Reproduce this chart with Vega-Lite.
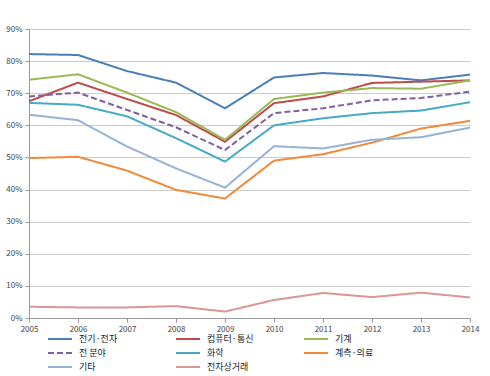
{
  "$schema": "https://vega.github.io/schema/vega-lite/v6.json",
  "width": 441,
  "height": 289,
  "autosize": {"type": "none"},
  "padding": {"left": 29, "top": 29, "right": 20, "bottom": 58},
  "background": "white",
  "config": {
    "font": "Noto Sans CJK KR",
    "view": {"stroke": null},
    "axis": {"labelColor": "#444", "labelFontSize": 8, "domainColor": "#999", "tickColor": "#999", "gridColor": "#cccccc", "gridWidth": 1}
  },
  "data": {"values": [
    {"year": "2005", "s": "전기·전자", "v": 82.2},
    {"year": "2006", "s": "전기·전자", "v": 81.9},
    {"year": "2007", "s": "전기·전자", "v": 76.9},
    {"year": "2008", "s": "전기·전자", "v": 73.3},
    {"year": "2009", "s": "전기·전자", "v": 65.3},
    {"year": "2010", "s": "전기·전자", "v": 74.9},
    {"year": "2011", "s": "전기·전자", "v": 76.3},
    {"year": "2012", "s": "전기·전자", "v": 75.5},
    {"year": "2013", "s": "전기·전자", "v": 74.0},
    {"year": "2014", "s": "전기·전자", "v": 75.8},
    {"year": "2005", "s": "컴퓨터·통신", "v": 67.5},
    {"year": "2006", "s": "컴퓨터·통신", "v": 73.3},
    {"year": "2007", "s": "컴퓨터·통신", "v": 68.2},
    {"year": "2008", "s": "컴퓨터·통신", "v": 63.2},
    {"year": "2009", "s": "컴퓨터·통신", "v": 54.9},
    {"year": "2010", "s": "컴퓨터·통신", "v": 66.9},
    {"year": "2011", "s": "컴퓨터·통신", "v": 69.0},
    {"year": "2012", "s": "컴퓨터·통신", "v": 73.2},
    {"year": "2013", "s": "컴퓨터·통신", "v": 73.6},
    {"year": "2014", "s": "컴퓨터·통신", "v": 74.0},
    {"year": "2005", "s": "기계", "v": 74.2},
    {"year": "2006", "s": "기계", "v": 75.9},
    {"year": "2007", "s": "기계", "v": 70.2},
    {"year": "2008", "s": "기계", "v": 64.1},
    {"year": "2009", "s": "기계", "v": 55.5},
    {"year": "2010", "s": "기계", "v": 68.2},
    {"year": "2011", "s": "기계", "v": 70.2},
    {"year": "2012", "s": "기계", "v": 71.6},
    {"year": "2013", "s": "기계", "v": 71.4},
    {"year": "2014", "s": "기계", "v": 74.0},
    {"year": "2005", "s": "전 분야", "v": 69.0},
    {"year": "2006", "s": "전 분야", "v": 70.2},
    {"year": "2007", "s": "전 분야", "v": 64.8},
    {"year": "2008", "s": "전 분야", "v": 59.4},
    {"year": "2009", "s": "전 분야", "v": 52.3},
    {"year": "2010", "s": "전 분야", "v": 63.8},
    {"year": "2011", "s": "전 분야", "v": 65.3},
    {"year": "2012", "s": "전 분야", "v": 67.8},
    {"year": "2013", "s": "전 분야", "v": 68.5},
    {"year": "2014", "s": "전 분야", "v": 70.5},
    {"year": "2005", "s": "화학", "v": 67.0},
    {"year": "2006", "s": "화학", "v": 66.4},
    {"year": "2007", "s": "화학", "v": 62.8},
    {"year": "2008", "s": "화학", "v": 56.0},
    {"year": "2009", "s": "화학", "v": 48.7},
    {"year": "2010", "s": "화학", "v": 60.0},
    {"year": "2011", "s": "화학", "v": 62.2},
    {"year": "2012", "s": "화학", "v": 63.8},
    {"year": "2013", "s": "화학", "v": 64.6},
    {"year": "2014", "s": "화학", "v": 67.2},
    {"year": "2005", "s": "계측·의료", "v": 49.8},
    {"year": "2006", "s": "계측·의료", "v": 50.2},
    {"year": "2007", "s": "계측·의료", "v": 45.9},
    {"year": "2008", "s": "계측·의료", "v": 39.9},
    {"year": "2009", "s": "계측·의료", "v": 37.2},
    {"year": "2010", "s": "계측·의료", "v": 49.0},
    {"year": "2011", "s": "계측·의료", "v": 51.0},
    {"year": "2012", "s": "계측·의료", "v": 54.6},
    {"year": "2013", "s": "계측·의료", "v": 59.0},
    {"year": "2014", "s": "계측·의료", "v": 61.4},
    {"year": "2005", "s": "기타", "v": 63.3},
    {"year": "2006", "s": "기타", "v": 61.6},
    {"year": "2007", "s": "기타", "v": 53.4},
    {"year": "2008", "s": "기타", "v": 46.6},
    {"year": "2009", "s": "기타", "v": 40.6},
    {"year": "2010", "s": "기타", "v": 53.5},
    {"year": "2011", "s": "기타", "v": 52.8},
    {"year": "2012", "s": "기타", "v": 55.5},
    {"year": "2013", "s": "기타", "v": 56.3},
    {"year": "2014", "s": "기타", "v": 59.3},
    {"year": "2005", "s": "전자상거래", "v": 3.5},
    {"year": "2006", "s": "전자상거래", "v": 3.3},
    {"year": "2007", "s": "전자상거래", "v": 3.3},
    {"year": "2008", "s": "전자상거래", "v": 3.7},
    {"year": "2009", "s": "전자상거래", "v": 2.0},
    {"year": "2010", "s": "전자상거래", "v": 5.6},
    {"year": "2011", "s": "전자상거래", "v": 7.8},
    {"year": "2012", "s": "전자상거래", "v": 6.5},
    {"year": "2013", "s": "전자상거래", "v": 7.9},
    {"year": "2014", "s": "전자상거래", "v": 6.4}
  ]},
  "transform": [{"calculate": "datum.v / 100", "as": "p"}],
  "mark": {"type": "line", "strokeWidth": 2},
  "encoding": {
    "x": {"field": "year", "type": "ordinal", "scale": {"type": "point", "padding": 0},
      "axis": {"title": null, "labelAngle": 0, "grid": false, "labelPadding": 3, "tickSize": 4}},
    "y": {"field": "p", "type": "quantitative", "scale": {"domain": [0, 0.9]},
      "axis": {"title": null, "format": ".0%", "values": [0, 0.1, 0.2, 0.3, 0.4, 0.5, 0.6, 0.7, 0.8, 0.9], "tickSize": 4, "domain": true, "labelPadding": 3}},
    "color": {"field": "s", "type": "nominal", "title": null,
      "scale": {"domain": ["전기·전자", "컴퓨터·통신", "기계", "전 분야", "화학", "계측·의료", "기타", "전자상거래"],
        "range": ["#4a7ebb", "#be4b48", "#98b954", "#7d60a0", "#46aac5", "#f08a3a", "#95b3d7", "#d99694"]},
      "legend": {"orient": "none", "direction": "horizontal", "legendX": 18, "legendY": 305, "columns": 3, "gridAlign": "all", "columnPadding": 46, "rowPadding": 4,
        "symbolType": "M-1,0H5", "symbolSize": 64, "symbolStrokeWidth": 2, "labelFontSize": 9, "labelColor": "#222", "labelOffset": 22}},
    "strokeDash": {"field": "s", "type": "nominal", "title": null,
      "scale": {"domain": ["전기·전자", "컴퓨터·통신", "기계", "전 분야", "화학", "계측·의료", "기타", "전자상거래"],
        "range": [[1, 0], [1, 0], [1, 0], [6, 3], [1, 0], [1, 0], [1, 0], [1, 0]]}}
  }
}
